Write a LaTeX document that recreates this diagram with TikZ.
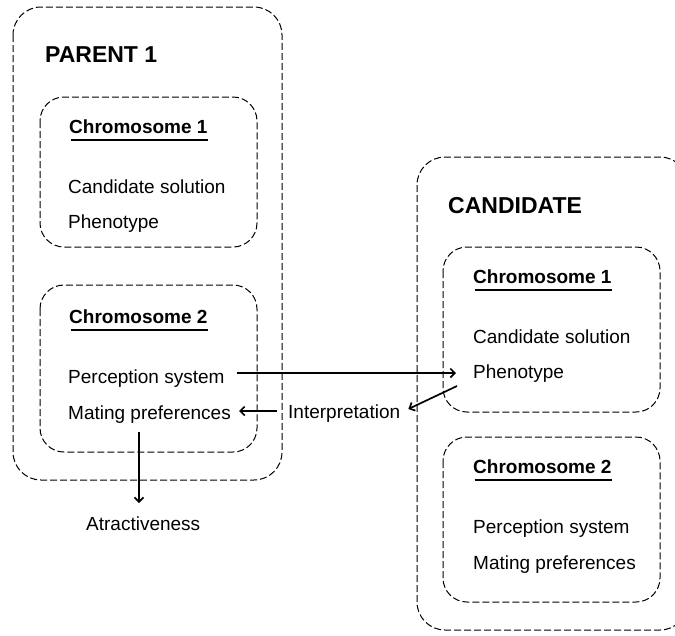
\documentclass[tikz,border=0pt]{standalone}
\usepackage{fontspec}
\setmainfont{Liberation Sans}
\usetikzlibrary{arrows.meta,calc}
\begin{document}
\begin{tikzpicture}[x=1pt,y=-1pt,
  box/.style={draw,line width=1pt,dash pattern=on 7pt off 3pt,rounded corners=#1},
  box/.default=24pt,
  txt/.style={anchor=base west,inner sep=0pt,font=\fontsize{19}{22}\selectfont},
  hd/.style={anchor=base west,inner sep=0pt,font=\fontsize{19}{22}\selectfont\bfseries},
  ttl/.style={anchor=base west,inner sep=0pt,font=\fontsize{23}{27}\selectfont\bfseries},
  arr/.style={line width=1.7pt,-{Straight Barb[length=4.5pt,width=9pt]}},
  ul/.style={line width=2pt}]
\useasboundingbox (0,0) rectangle (675,635);
\clip (0,0) rectangle (675,635);

% containers
\draw[box=28pt] (13,7) rectangle (282,480);
\draw[box] (40,97) rectangle (257,247);
\draw[box] (40,285) rectangle (257,452);
\draw[box=28pt] (417,157) rectangle (688,630);
\draw[box] (443,247) rectangle (660,412);
\draw[box] (443,437) rectangle (660,602);

% parent texts
\node[ttl] (p1) at (45,62) {PARENT 1};
\node[hd] (pc1) at (69,133) {Chromosome 1};
\node[txt] (pcs) at (68,193) {Candidate solution};
\node[txt] (pph) at (68,228) {Phenotype};
\node[hd] (pc2) at (69,323) {Chromosome 2};
\node[txt] (pps) at (68,383) {Perception system};
\node[txt] (pmp) at (68,419) {Mating preferences};
\node[txt] (interp) at (288,418) {Interpretation};
\node[txt] (attr) at (86,530) {Atractiveness};

% candidate texts
\node[ttl] (cand) at (448,213) {CANDIDATE};
\node[hd] (cc1) at (473,283) {Chromosome 1};
\node[txt] (ccs) at (473,343) {Candidate solution};
\node[txt] (cph) at (473,378) {Phenotype};
\node[hd] (cc2) at (473,473) {Chromosome 2};
\node[txt] (cps) at (473,533) {Perception system};
\node[txt] (cmp) at (473,569) {Mating preferences};

% underlines
\foreach \n in {pc1,pc2,cc1,cc2}
  \draw[ul] ($(\n.base west)+(1.5,6.5)$) -- ($(\n.base east)+(0,6.5)$);

% connectors
\coordinate (a1) at ($(pps.base east)+(12,-10)$);
\draw[arr] (a1) -- ($(a1 -| cph.base west)+(-17,0)$);
\coordinate (a2) at ($(interp.base west)+(-11,-7)$);
\draw[arr] (a2) -- ($(a2 -| pmp.base east)+(8,0)$);
\draw[arr] ($(cph.base west)+(-16,8)$) -- ($(interp.base east)+(8,-9)$);
\coordinate (a3) at ($(pmp.base west)+(71,13)$);
\draw[arr] (a3) -- ($(a3 |- attr.base)+(0,-27)$);
\end{tikzpicture}
\end{document}
